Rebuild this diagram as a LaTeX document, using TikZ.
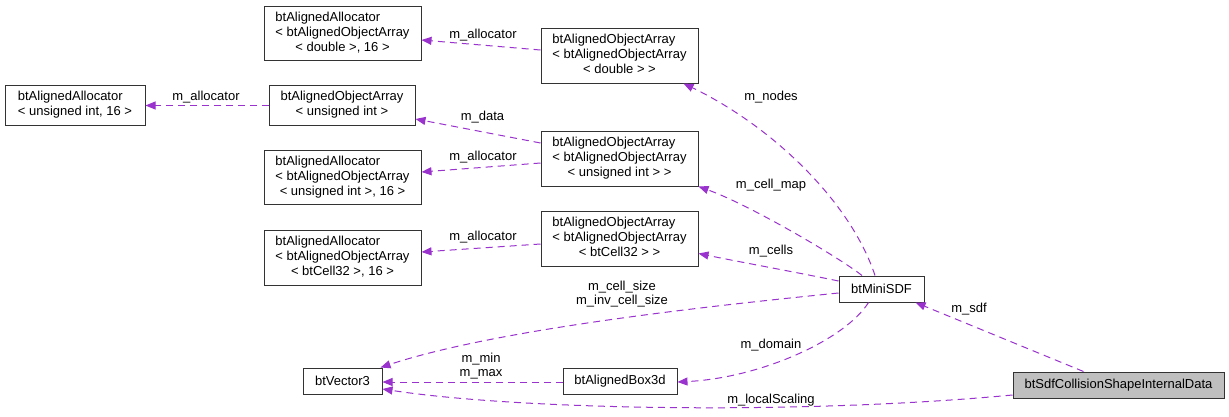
\documentclass[tikz,border=0pt]{standalone}
\usepackage{fontspec}
\setmainfont{Liberation Sans}
\usetikzlibrary{arrows.meta}
\definecolor{edgecol}{HTML}{9A32CD}
\definecolor{boxfill}{HTML}{BFBFBF}
\newcommand{\lastln}[1]{\multicolumn{1}{@{}c@{}}{#1}}
\tikzset{
  cls/.style={draw=black!80, line width=1pt, inner sep=0pt, fill=white,
    font=\fontsize{13}{15}\selectfont},
  clsgray/.style={cls, fill=boxfill},
  edge/.style={draw=edgecol, line width=1pt, dash pattern=on 7pt off 5pt,
    -{Triangle[length=10pt,width=8pt]}},
  lbl/.style={inner sep=0pt, align=center, font=\fontsize{13}{14}\selectfont}
}
\begin{document}
\begin{tikzpicture}[x=1pt,y=-1pt]
\useasboundingbox (0,0) rectangle (1229,416);
% class boxes
\node[cls, minimum width=140pt, minimum height=40pt] (A1) at (75,105)
  {\begin{tabular}{@{}l@{}}btAlignedAllocator\\\lastln{< unsigned int, 16 >}\end{tabular}};
\node[cls, minimum width=157pt, minimum height=54pt] (A2) at (342.5,33)
  {\begin{tabular}{@{}l@{}}btAlignedAllocator\\< btAlignedObjectArray\\\lastln{< double >, 16 >}\end{tabular}};
\node[cls, minimum width=146pt, minimum height=40pt] (A3) at (342,105)
  {\begin{tabular}{@{}l@{}}btAlignedObjectArray\\\lastln{< unsigned int >}\end{tabular}};
\node[cls, minimum width=157pt, minimum height=54pt] (A4) at (342.5,177)
  {\begin{tabular}{@{}l@{}}btAlignedAllocator\\< btAlignedObjectArray\\\lastln{< unsigned int >, 16 >}\end{tabular}};
\node[cls, minimum width=157pt, minimum height=55pt] (A5) at (342.5,257.5)
  {\begin{tabular}{@{}l@{}}btAlignedAllocator\\< btAlignedObjectArray\\\lastln{< btCell32 >, 16 >}\end{tabular}};
\node[cls, minimum width=157pt, minimum height=55pt] (O1) at (619.5,55.5)
  {\begin{tabular}{@{}l@{}}btAlignedObjectArray\\< btAlignedObjectArray\\\lastln{< double > >}\end{tabular}};
\node[cls, minimum width=157pt, minimum height=55pt] (O2) at (619.5,158.5)
  {\begin{tabular}{@{}l@{}}btAlignedObjectArray\\< btAlignedObjectArray\\\lastln{< unsigned int > >}\end{tabular}};
\node[cls, minimum width=157pt, minimum height=55pt] (O3) at (619.5,238.5)
  {\begin{tabular}{@{}l@{}}btAlignedObjectArray\\< btAlignedObjectArray\\\lastln{< btCell32 > >}\end{tabular}};
\node[cls, minimum width=79pt, minimum height=26pt] (V) at (342.5,381) {btVector3};
\node[cls, minimum width=114pt, minimum height=26pt] (B) at (620,381) {btAlignedBox3d};
\node[cls, minimum width=85pt, minimum height=26pt] (M) at (881.5,289) {btMiniSDF};
\node[clsgray, minimum width=211pt, minimum height=26pt] (S) at (1118.5,385) {btSdfCollisionShapeInternalData};
% connectors
\draw[edge] ([yshift=-0.5pt]A3.west) -- ([yshift=-0.5pt]A1.east);
\draw[edge] ([yshift=5.5pt]O1.west) -- ([yshift=-7pt]A2.east);
\draw[edge] ([yshift=15.5pt]O2.west) -- ([yshift=-14pt]A3.east);
\draw[edge] ([yshift=-4.5pt]O2.west) -- ([yshift=5pt]A4.east);
\draw[edge] ([yshift=-5.5pt]O3.west) -- ([yshift=5.5pt]A5.east);
\draw[edge] ([xshift=-6.5pt]M.north) .. controls (850,200) and (770,125) .. ([xshift=-15pt]O1.south east);
\draw[edge] ([xshift=-19.5pt]M.north) .. controls (840,258) and (750,205) .. (O2.south east);
\draw[edge] ([yshift=8pt]M.west) .. controls (800,273) and (740,262) .. ([yshift=-15pt]O3.east);
\draw[edge] ([yshift=-4pt]M.west) .. controls (720,305) and (500,328) .. ([xshift=-2pt]V.north east);
\draw[edge] ([xshift=-13pt]M.south) .. controls (845,340) and (760,378) .. ([yshift=-1pt]B.east);
\draw[edge] ([yshift=-1pt]B.west) -- ([yshift=-1pt]V.east);
\draw[edge] ([yshift=-10pt]S.west) .. controls (800,415) and (520,410) .. ([yshift=-8pt]V.east);
\draw[edge] ([xshift=-35pt]S.north) -- ([xshift=-9pt]M.south east);
% labels
\node[lbl] (l1) at (206,97) {m\_allocator};
\node[lbl] (l2) at (483,35) {m\_allocator};
\node[lbl] (l3) at (482.5,117) {m\_data};
\node[lbl] (l4) at (483,157) {m\_allocator};
\node[lbl] (l5) at (483,237) {m\_allocator};
\node[lbl] (l6) at (771,97) {m\_nodes};
\node[lbl] (l7) at (771,185) {m\_cell\_map};
\node[lbl] (l8) at (771,251) {m\_cells};
\node[lbl] (l9) at (622,294) {m\_cell\_size\\m\_inv\_cell\_size};
\node[lbl] (l10) at (771,345) {m\_domain};
\node[lbl] (l11) at (481,366) {m\_min\\m\_max};
\node[lbl] (l12) at (771,400) {m\_localScaling};
\node[lbl] (l13) at (969,309) {m\_sdf};
\end{tikzpicture}
\end{document}
